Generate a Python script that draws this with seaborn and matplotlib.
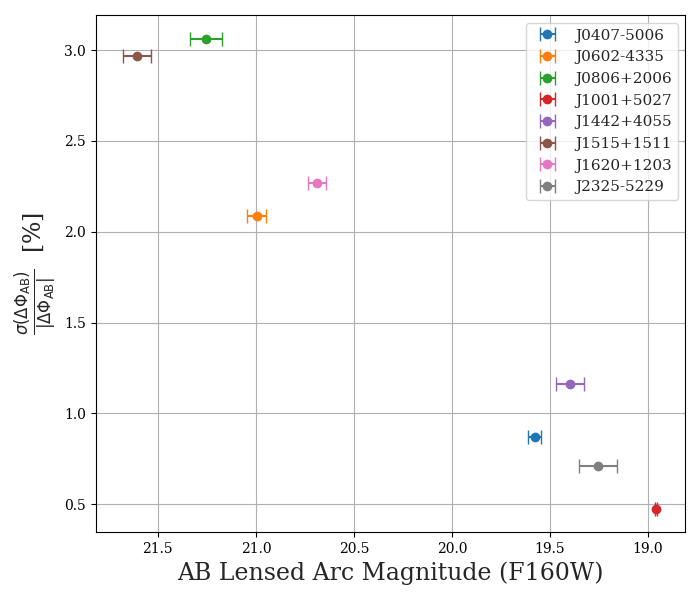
import numpy as np
import pandas as pd
import matplotlib
matplotlib.use("Agg")
import matplotlib.pyplot as plt
import seaborn as sns

sns.set_theme(style="ticks", palette="tab10")
plt.rcParams['font.family'] = ['DejaVu Serif']
plt.rcParams['mathtext.fontset'] = 'dejavusans'

names = ["J0407-5006", "J0602-4335", "J0806+2006", "J1001+5027",
         "J1442+4055", "J1515+1511", "J1620+1203", "J2325-5229"]
mag = [19.577, 20.995, 21.255, 18.96, 19.398, 21.607, 20.689, 19.255]
mag_err = [0.033, 0.048, 0.082, 0.005, 0.069, 0.071, 0.046, 0.097]
frac = [0.869, 2.086, 3.061, 0.472, 1.161, 2.967, 2.268, 0.709]

df = pd.DataFrame({"name": names, "mag": mag, "mag_err": mag_err,
                   "frac": frac})
colors = sns.color_palette("tab10", len(names))

fig, ax = plt.subplots(figsize=(7, 6), dpi=100)
for (i, row), c in zip(df.iterrows(), colors):
    ax.errorbar(row["mag"], row["frac"], xerr=row["mag_err"],
                fmt="o", color=c, capsize=5, label=row["name"])

ax.set_xlim(21.816, 18.81)
ax.set_ylim(0.346, 3.193)
ax.grid(True, color="#b0b0b0", linewidth=0.8)
for s in ax.spines.values():
    s.set_color("black")
    s.set_linewidth(0.8)
ax.tick_params(colors="black", labelsize=10, length=3.5, width=0.8)

ax.set_xlabel("AB Lensed Arc Magnitude (F160W)", fontsize=17)
ax.set_ylabel(r"$\frac{\sigma(\Delta\Phi_{\rm AB})}{|\Delta\Phi_{\rm AB}|}$  [%]",
              fontsize=17)
ax.legend(loc="upper right", fontsize=11, frameon=True)

plt.subplots_adjust(left=0.137, right=0.979, top=0.975, bottom=0.113)
plt.savefig("out.png", dpi=100)
